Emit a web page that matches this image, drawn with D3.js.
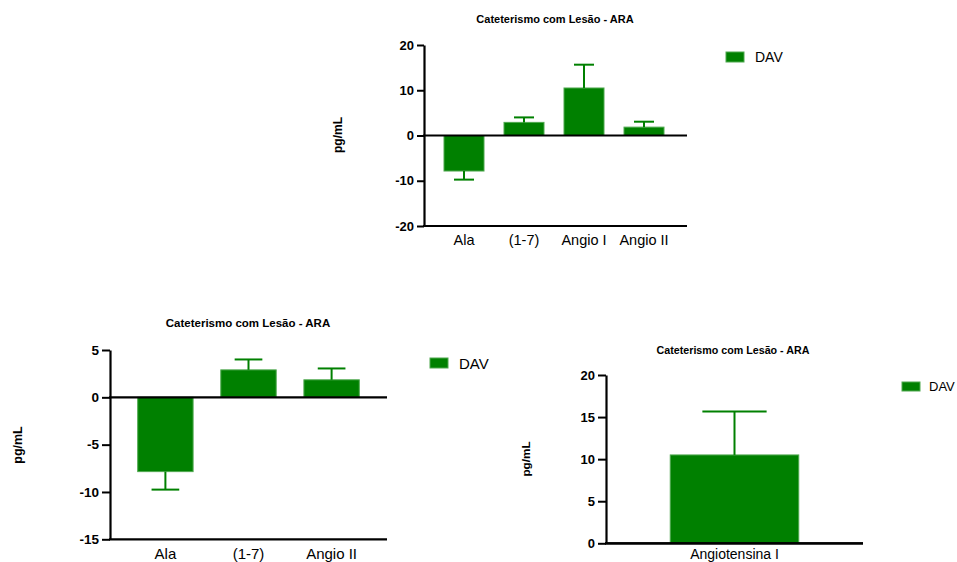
<!DOCTYPE html>
<html>
<head>
<meta charset="utf-8">
<script src="https://cdn.jsdelivr.net/npm/d3@7"></script>
<style>
  html, body { margin: 0; padding: 0; background: #fff; }
  svg { display: block; font-family: "Liberation Sans", Arial, Helvetica, sans-serif; }
</style>
</head>
<body>
<svg id="chart" width="957" height="562"></svg>
<script>
// Mean change (DAV) per peptide, with the upper/lower SEM bound drawn as an error bar
const categories = ["Ala", "(1-7)", "Angio I", "Angio II"];
const meanValues = [-7.85, 2.9, 10.5, 1.85];
const errorEnds = [-9.75, 4.0, 15.65, 3.05];

const subsetCategories = ["Ala", "(1-7)", "Angio II"];
const singleCategory = ["Angiotensina I"];

const ticksTop = [-20, -10, 0, 10, 20];
const ticksLeft = [-15, -10, -5, 0, 5];
const ticksRight = [0, 5, 10, 15, 20];

const titleText = "Cateterismo com Lesão - ARA";
const yLabelText = "pg/mL";
const seriesName = "DAV";

const GREEN = "#008000";
const svg = d3.select("#chart");

function pick(names) {
  return names.map(n => {
    const i = categories.indexOf(n === "Angiotensina I" ? "Angio I" : n);
    return { name: n, value: meanValues[i], err: errorEnds[i] };
  });
}

function drawPanel(p) {
  const g = svg.append("g");
  const y = d3.scaleLinear().domain(p.domain).range([p.bottom, p.top]);
  const x = d3.scaleBand().domain(p.data.map(d => d.name))
    .range([p.left, p.right]).paddingInner(1 / 3).paddingOuter(1 / 3);

  // bars
  g.selectAll("rect.bar").data(p.data).join("rect")
    .attr("class", "bar")
    .attr("x", d => x(d.name))
    .attr("width", x.bandwidth())
    .attr("y", d => Math.min(y(d.value), y(0)))
    .attr("height", d => Math.abs(y(d.value) - y(0)))
    .attr("fill", GREEN)
    .attr("stroke", "#4fa84f")
    .attr("stroke-width", 1);

  // error bars (one-sided, away from zero)
  const eb = g.selectAll("g.err").data(p.data).join("g").attr("class", "err");
  eb.append("line")
    .attr("x1", d => x(d.name) + x.bandwidth() / 2)
    .attr("x2", d => x(d.name) + x.bandwidth() / 2)
    .attr("y1", d => y(d.value))
    .attr("y2", d => y(d.err))
    .attr("stroke", GREEN).attr("stroke-width", 2);
  eb.append("line")
    .attr("x1", d => x(d.name) + x.bandwidth() / 4)
    .attr("x2", d => x(d.name) + x.bandwidth() * 3 / 4)
    .attr("y1", d => y(d.err))
    .attr("y2", d => y(d.err))
    .attr("stroke", GREEN).attr("stroke-width", 2);

  // y axis (plain hyphen for negatives)
  const yAxis = g.append("g")
    .attr("transform", `translate(${p.left},0)`)
    .call(d3.axisLeft(y).tickValues(p.ticks).tickFormat(d => String(d))
      .tickSize(p.tickLen).tickSizeOuter(0).tickPadding(3));
  yAxis.select(".domain").attr("stroke", "#000").attr("stroke-width", 2.2);
  yAxis.selectAll(".tick line").attr("stroke", "#000").attr("stroke-width", 2);
  yAxis.selectAll(".tick text")
    .attr("font-size", p.tickFont).attr("font-weight", "bold").attr("fill", "#000")
    .attr("font-family", "Liberation Sans, Arial, sans-serif");

  // zero line and bottom baseline
  g.append("line").attr("x1", p.left - 1).attr("x2", p.axisEnd)
    .attr("y1", y(0)).attr("y2", y(0)).attr("stroke", "#000").attr("stroke-width", 2.2);
  g.append("line").attr("x1", p.left - 1).attr("x2", p.axisEnd)
    .attr("y1", p.bottom).attr("y2", p.bottom).attr("stroke", "#000").attr("stroke-width", 2.2);

  // category labels
  g.selectAll("text.cat").data(p.data).join("text")
    .attr("class", "cat")
    .attr("x", d => x(d.name) + x.bandwidth() / 2)
    .attr("y", p.catY)
    .attr("text-anchor", "middle")
    .attr("font-size", p.catFont)
    .attr("fill", "#000")
    .text(d => d.name);

  // title
  g.append("text").attr("x", p.titleX).attr("y", p.titleY)
    .attr("text-anchor", "middle").attr("font-size", p.titleFont)
    .attr("font-weight", "bold").attr("fill", "#000").text(titleText);

  // y label
  g.append("text")
    .attr("transform", `translate(${p.yLabelX},${p.yLabelY}) rotate(-90)`)
    .attr("text-anchor", "middle").attr("dominant-baseline", "central")
    .attr("font-size", p.yLabelFont).attr("font-weight", "bold").attr("fill", "#000")
    .text(yLabelText);

  // legend
  g.append("rect").attr("x", p.legX).attr("y", p.legY).attr("width", 18).attr("height", p.legH)
    .attr("fill", GREEN).attr("stroke", "#4fa84f").attr("stroke-width", 1);
  g.append("text").attr("x", p.legX + p.legGap).attr("y", p.legY + p.legH / 2)
    .attr("dominant-baseline", "central").attr("font-size", p.legFont).attr("fill", "#000")
    .text(seriesName);
}

drawPanel({
  data: pick(categories), domain: [-20, 20], ticks: ticksTop,
  left: 424, right: 684, axisEnd: 687, top: 45, bottom: 226,
  tickLen: 7, tickFont: 13, catFont: 14.5, catY: 245,
  titleX: 555, titleY: 23, titleFont: 11,
  yLabelX: 338, yLabelY: 135, yLabelFont: 12,
  legX: 726, legY: 52, legH: 10, legGap: 29, legFont: 14
});

drawPanel({
  data: pick(subsetCategories), domain: [-15, 5], ticks: ticksLeft,
  left: 110, right: 387, axisEnd: 387, top: 350, bottom: 539.3,
  tickLen: 8, tickFont: 13.5, catFont: 15, catY: 559,
  titleX: 248, titleY: 327, titleFont: 11.5,
  yLabelX: 18, yLabelY: 445, yLabelFont: 12.5,
  legX: 430, legY: 358, legH: 10, legGap: 29, legFont: 15
});

drawPanel({
  data: pick(singleCategory), domain: [0, 20], ticks: ticksRight,
  left: 606, right: 863, axisEnd: 863, top: 375, bottom: 543.3,
  tickLen: 8, tickFont: 13, catFont: 14, catY: 559,
  titleX: 733, titleY: 354, titleFont: 10.7,
  yLabelX: 525.5, yLabelY: 459, yLabelFont: 11.7,
  legX: 902, legY: 382, legH: 9, legGap: 27, legFont: 13
});
</script>
</body>
</html>
